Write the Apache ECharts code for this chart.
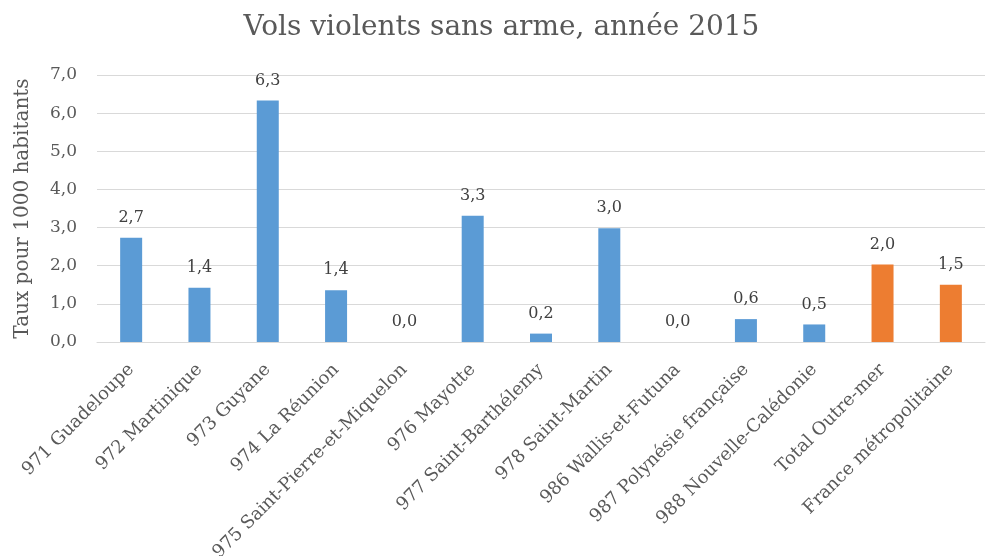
<!DOCTYPE html>
<html>
<head>
<meta charset="utf-8">
<script src="https://cdn.jsdelivr.net/npm/echarts@6/dist/echarts.min.js"></script>
<style>
  html, body { margin: 0; padding: 0; background: #fff; }
  #chart { width: 1003px; height: 556px; }
</style>
</head>
<body>
<div id="chart"></div>
<script>
var categories = [
  "971 Guadeloupe", "972 Martinique", "973 Guyane", "974 La Réunion",
  "975 Saint-Pierre-et-Miquelon", "976 Mayotte", "977 Saint-Barthélemy",
  "978 Saint-Martin", "986 Wallis-et-Futuna", "987 Polynésie française",
  "988 Nouvelle-Calédonie", "Total Outre-mer", "France métropolitaine"
];
var values = [2.73, 1.42, 6.33, 1.36, 0, 3.31, 0.22, 2.98, 0, 0.6, 0.46, 2.03, 1.5];
var highlighted = ["Total Outre-mer", "France métropolitaine"];
var yTicks = [0, 1, 2, 3, 4, 5, 6, 7];

var fontFamily = "'DejaVu Serif', 'Liberation Serif', serif";
var fmt = function (v) { return Number(v).toFixed(1).replace(".", ","); };

var myChart = echarts.init(document.getElementById("chart"));
var option = {
  animation: false,
  title: {
    text: "Vols violents sans arme, année 2015",
    left: "center",
    top: 9,
    textStyle: { fontFamily: fontFamily, fontSize: 28, fontWeight: "normal", color: "#595959" }
  },
  grid: { left: 97, right: 18, top: 75, bottom: 214, containLabel: false, outerBoundsMode: "none" },
  xAxis: {
    type: "category",
    data: categories,
    axisTick: { show: false },
    axisLine: { lineStyle: { color: "#d9d9d9", width: 1 } },
    axisLabel: {
      rotate: 45,
      interval: 0,
      margin: 25,
      fontFamily: fontFamily,
      fontSize: 18,
      color: "#595959"
    }
  },
  yAxis: {
    type: "value",
    min: yTicks[0],
    max: yTicks[yTicks.length - 1],
    interval: 1,
    name: "Taux pour 1000 habitants",
    nameLocation: "middle",
    nameGap: 64,
    nameTextStyle: { fontFamily: fontFamily, fontSize: 20, color: "#595959" },
    axisLine: { show: false },
    axisTick: { show: false },
    splitLine: { lineStyle: { color: "#d9d9d9" } },
    axisLabel: { formatter: fmt, fontFamily: fontFamily, fontSize: 17, color: "#595959", margin: 20 }
  },
  series: [{
    type: "bar",
    barWidth: 22,
    data: values.map(function (v, i) {
      return {
        value: v,
        itemStyle: { color: highlighted.indexOf(categories[i]) >= 0 ? "#ed7d31" : "#5b9bd5" }
      };
    }),
    label: {
      show: true,
      position: "top",
      distance: 12,
      formatter: function (p) { return fmt(p.value); },
      fontFamily: fontFamily,
      fontSize: 16,
      color: "#404040"
    }
  }]
};
myChart.setOption(option);
window.onresize = myChart.resize;
</script>
</body>
</html>
